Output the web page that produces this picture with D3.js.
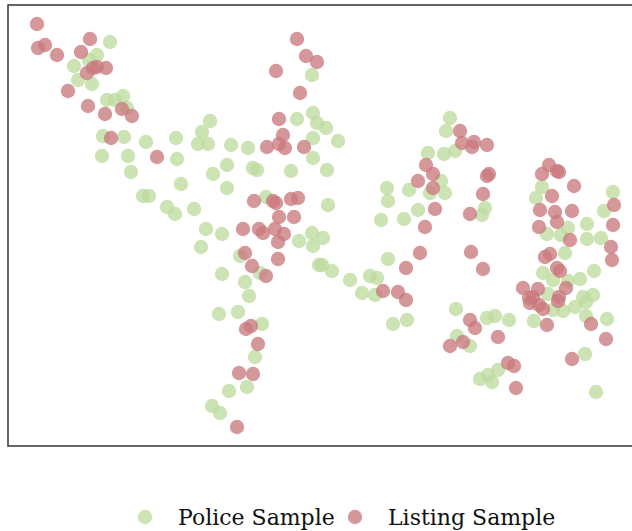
<!DOCTYPE html>
<html>
<head>
<meta charset="utf-8">
<script src="https://cdn.jsdelivr.net/npm/d3@7"></script>
<style>
  body { margin: 0; background: #fff; }
  svg { display: block; }
</style>
</head>
<body>
<div id="chart"></div>
<script>
// embedding coordinates (arbitrary units)
var policeX = [102, 89, 81, 66, 70, 84, 99, 107, 115, 119, 95, 116, 138, 94, 120, 123, 135, 141,
    304, 289, 305, 309, 305, 202, 194, 168, 190, 200, 223, 240, 318, 330, 442, 438, 420, 436, 447,
    169, 219, 205, 245, 249, 283, 305, 173, 219, 258, 159, 167, 186, 198, 214, 304, 305, 291, 193,
    232, 252, 214, 237, 241, 311, 319, 433, 401, 379, 422, 437, 380, 320, 410, 373, 396, 315, 380,
    314, 324, 342, 362, 369, 354, 367, 477, 474, 534, 528, 605, 596, 579, 560, 539, 553, 579, 593,
    557, 586, 535, 545, 560, 572, 540, 575, 585, 545, 555, 567, 578, 479, 487, 501, 526, 578, 599,
    577, 490, 480, 484, 472, 588, 385, 399, 448, 449, 462, 211, 230, 254, 247, 221, 239, 204, 212];
var policeY = [404, 391, 386, 380, 366, 362, 346, 346, 350, 338, 310, 309, 304, 290, 290, 274, 250, 250,
    371, 327, 333, 323, 308, 325, 314, 308, 302, 302, 301, 298, 318, 305, 328, 315, 293, 292, 295,
    287, 281, 272, 278, 276, 275, 288, 262, 258, 249, 239, 232, 237, 217, 212, 213, 200, 205, 199,
    190, 173, 172, 164, 150, 181, 276, 265, 256, 258, 253, 253, 245, 241, 236, 226, 227, 208, 187,
    181, 175, 166, 170, 168, 153, 151, 238, 231, 259, 248, 254, 235, 222, 218, 212, 211, 207, 208,
    193, 175, 173, 166, 165, 167, 152, 149, 151, 136, 135, 139, 144, 128, 130, 126, 125, 130, 127,
    92, 76, 71, 64, 67, 54, 122, 126, 137, 110, 100, 132, 134, 122, 89, 55, 59, 40, 33];

var listingX = [29, 30, 37, 49, 82, 73, 79, 85, 89, 98, 60, 80, 97, 114, 124, 103, 149,
    289, 298, 309, 268, 292, 271, 275, 259, 271, 277, 296, 452, 454, 466, 464, 479,
    246, 265, 268, 283, 290, 271, 286, 235, 251, 255, 267, 276, 270, 237, 244, 258, 270,
    418, 425, 410, 425, 427, 462, 417, 412, 463, 398, 375, 390, 398,
    479, 481, 475, 541, 534, 549, 551, 566, 544, 532, 547, 564, 606, 549, 531, 605, 562, 603, 604,
    542, 537, 475, 549, 552, 515, 530, 558, 551, 525, 521, 522, 531, 550, 535, 539, 583, 490, 598,
    500, 506, 564, 508, 462, 467, 442, 455, 238, 243, 250, 231, 245, 229];
var listingY = [422, 398, 401, 391, 407, 394, 373, 378, 379, 378, 355, 340, 332, 337, 330, 308, 289,
    407, 390, 384, 375, 353, 327, 311, 299, 302, 298, 299, 315, 303, 304, 299, 301,
    245, 245, 243, 247, 248, 229, 229, 217, 217, 213, 217, 212, 204, 193, 180, 170, 187,
    281, 272, 265, 258, 237, 232, 219, 193, 194, 178, 155, 154, 146,
    270, 272, 252, 281, 272, 275, 274, 260, 250, 236, 234, 235, 241, 224, 219, 221, 206, 199, 186,
    192, 189, 177, 178, 175, 158, 157, 158, 149, 149, 148, 143, 141, 145, 137, 121, 122, 109, 107,
    83, 80, 87, 58, 126, 118, 100, 104, 117, 120, 102, 73, 72, 19];

var seriesNames = ["Police Sample", "Listing Sample"];
var seriesColors = ["#bedb9f", "#c97a7e"];

var width = 632, height = 531;
var margin = {left: 8, top: 5, right: -8, bottom: 85};
var plotW = width - margin.left - margin.right;
var plotH = height - margin.top - margin.bottom;

var svg = d3.select("#chart").append("svg")
    .attr("width", width)
    .attr("height", height);

var x = d3.scaleLinear().domain([0, 632]).range([margin.left, margin.left + plotW]);
var y = d3.scaleLinear().domain([0, 441]).range([margin.top + plotH, margin.top]);

var g = svg.append("g");

function toPoints(xs, ys) {
    return xs.map(function(d, i) { return [d, ys[i]]; });
}

var series = [toPoints(policeX, policeY), toPoints(listingX, listingY)];

series.forEach(function(pts, s) {
    g.selectAll(".dot" + s)
        .data(pts)
        .enter().append("circle")
        .attr("class", "dot" + s)
        .attr("cx", function(d) { return x(d[0]); })
        .attr("cy", function(d) { return y(d[1]); })
        .attr("r", 7.2)
        .attr("fill", seriesColors[s])
        .attr("fill-opacity", 0.78);
});

// frame (right side runs off the page like the original)
svg.append("rect")
    .attr("x", margin.left)
    .attr("y", margin.top)
    .attr("width", plotW)
    .attr("height", plotH)
    .attr("fill", "none")
    .attr("stroke", "#262626")
    .attr("stroke-width", 1.4);

// legend
var legend = svg.append("g").attr("transform", "translate(0,517)");
var legendX = [145, 355];
seriesNames.forEach(function(name, i) {
    legend.append("circle")
        .attr("cx", legendX[i])
        .attr("cy", 0)
        .attr("r", 7.2)
        .attr("fill", seriesColors[i])
        .attr("fill-opacity", 0.78);
    legend.append("text")
        .attr("x", legendX[i] + 33)
        .attr("y", 8)
        .attr("font-family", "'DejaVu Serif', serif")
        .attr("font-size", 22)
        .attr("fill", "#111")
        .text(name);
});
</script>
</body>
</html>
